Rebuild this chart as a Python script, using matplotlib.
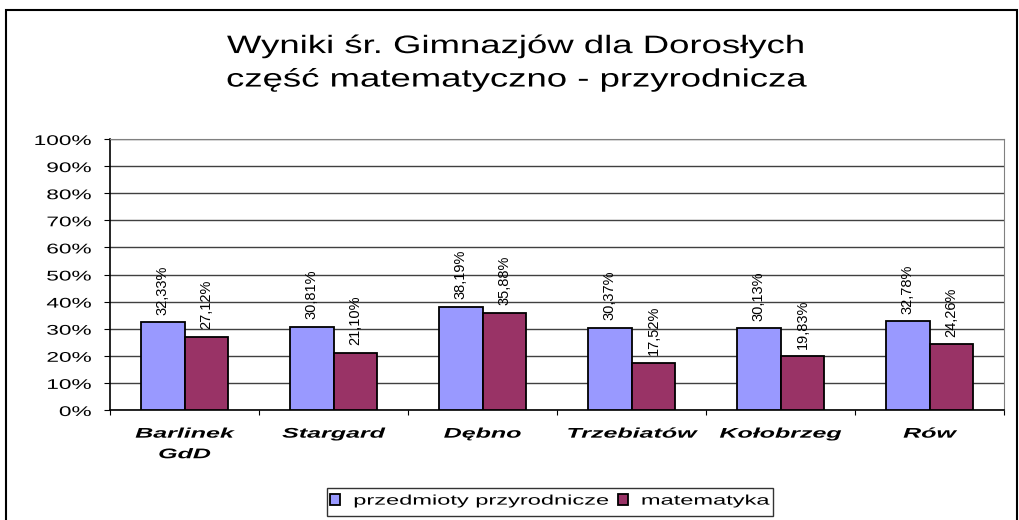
import numpy as np
import matplotlib.pyplot as plt
from matplotlib.patches import Rectangle
from matplotlib.patheffects import AbstractPathEffect
from matplotlib.transforms import Affine2D

plt.rcParams['font.family'] = ['Liberation Sans', 'DejaVu Sans']

schools = ['Barlinek\nGdD', 'Stargard', 'Dębno', 'Trzebiatów', 'Kołobrzeg', 'Rów']
przyrodnicze = [32.33, 30.81, 38.19, 30.37, 30.13, 32.78]
matematyka = [27.12, 21.10, 35.88, 17.52, 19.83, 24.26]
series_names = ['przedmioty przyrodnicze', 'matematyka']
yticks = list(range(0, 101, 10))

BLUE = '#9999ff'
RED = '#993366'


class Squash(AbstractPathEffect):
    """Flatten glyphs vertically so text looks wide, like the old Excel export."""

    def __init__(self, sy):
        super().__init__()
        self.sy = sy

    def draw_path(self, renderer, gc, tpath, affine, rgbFace=None):
        # text paths come in units where the font size is 100
        pre = Affine2D().translate(0, -35).scale(1, self.sy).translate(0, 35)
        renderer.draw_path(gc, tpath, pre + affine, rgbFace)


fig = plt.figure(figsize=(10.2, 5.2), dpi=100)
fig.patches.append(Rectangle((6 / 1020, -0.05), 1011 / 1020, 1.05 - 10 / 520,
                             transform=fig.transFigure, fill=False,
                             edgecolor='black', linewidth=1.5))

ax = fig.add_axes([110 / 1020, 1 - 410 / 520, 894 / 1020, 271 / 520])

x = np.arange(len(schools))
w = 0.295
b1 = ax.bar(x - w / 2, przyrodnicze, w, color=BLUE, edgecolor='black',
            linewidth=1.3, label=series_names[0], zorder=3)
b2 = ax.bar(x + w / 2, matematyka, w, color=RED, edgecolor='black',
            linewidth=1.3, label=series_names[1], zorder=3)


def fmt(v):
    return f'{v:.2f}%'.replace('.', ',')


for bars, vals in ((b1, przyrodnicze), (b2, matematyka)):
    for bar, v in zip(bars, vals):
        ax.text(bar.get_x() + bar.get_width() / 2, v + 2.8, fmt(v),
                rotation=90, ha='center', va='bottom', fontsize=10.5, zorder=4)

ax.set_xlim(-0.5, len(schools) - 0.5)
ax.set_ylim(0, 100)
ax.set_yticks(yticks)
ax.set_yticklabels([f'{t}%' for t in yticks], fontsize=16.3)
ax.yaxis.grid(True, color='#404040', linewidth=1)
ax.set_axisbelow(True)

ax.set_xticks(np.arange(len(schools) + 1) - 0.5)
ax.set_xticklabels([])
ax.set_xticks(x, minor=True)
ax.set_xticklabels(schools, minor=True, fontsize=18, fontweight='bold',
                   fontstyle='italic', linespacing=0.82)
ax.tick_params(axis='x', which='minor', length=0, pad=9)
ax.tick_params(axis='x', which='major', length=3.6, direction='out', color='black')
ax.tick_params(axis='y', length=4.3, color='black', pad=9)

for t in ax.get_yticklabels():
    t.set_path_effects([Squash(0.62)])
for t in ax.get_xticklabels(minor=True):
    t.set_path_effects([Squash(0.56)])

for s in ('left', 'bottom'):
    ax.spines[s].set_color('black')
    ax.spines[s].set_linewidth(1.2)
ax.spines['top'].set_color('#808080')
ax.spines['right'].set_color('#808080')

for ypix, line in ((47.5, 'Wyniki śr. Gimnazjów dla Dorosłych'),
                   (81, 'część matematyczno - przyrodnicza')):
    fig.text(0.506, 1 - ypix / 520, line, ha='center', va='center',
             fontsize=26.3, path_effects=[Squash(0.69)])

leg = fig.legend(loc='center', bbox_to_anchor=(550 / 1020, 1 - 502 / 520),
                 ncol=2, fontsize=17, frameon=True, fancybox=False,
                 edgecolor='black', handlelength=0.42, handleheight=0.38,
                 handletextpad=0.55, columnspacing=0.35, borderpad=0.13)
leg.get_frame().set_linewidth(1)
for t in leg.get_texts():
    t.set_path_effects([Squash(0.59)])

fig.savefig('out.png', dpi=100)
